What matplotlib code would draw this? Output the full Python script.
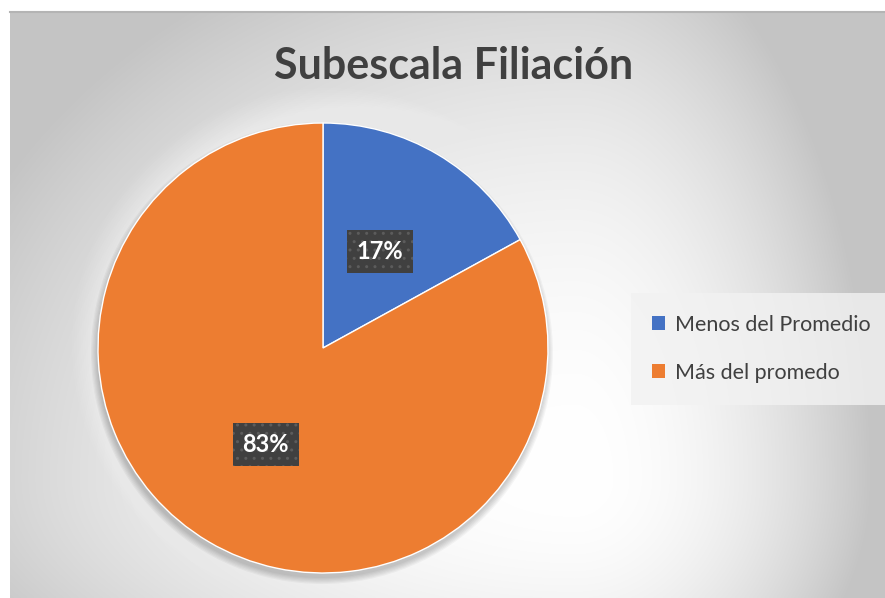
import numpy as np
import matplotlib.pyplot as plt
from matplotlib.patches import Circle

labels = ["Menos del Promedio", "Más del promedo"]
values = [17, 83]
colors = ["#4472C4", "#ED7D31"]
title = "Subescala Filiación"

W, H = 885, 598
fig = plt.figure(figsize=(W / 100, H / 100), dpi=100)
fig.patch.set_facecolor("white")
ax = fig.add_axes([0, 0, 1, 1])

# fondo con degradado (zona del grafico)
x0, x1, y0, y1 = 10, W, 0, H - 12
xx, yy = np.meshgrid(np.linspace(x0, x1, 450), np.linspace(y0, y1, 300))
gx, gy = 575, 118
ndx = np.where(xx > gx, (xx - gx) / (x1 - gx), (gx - xx) / 700)
ndy = np.where(yy > gy, (yy - gy) / 600, (gy - yy) / 300)
g = np.clip(1.0 - 0.25 * (ndx ** 2 + ndy ** 2), 0.77, 1.0)
ax.imshow(np.dstack([g, g, g]), extent=[x0, x1, y0, y1], origin="lower",
          zorder=0, aspect="auto", interpolation="bilinear")
ax.plot([x0, x1], [y1, y1], color="#b4b4b4", lw=1.5, zorder=1)

cx, cy, r = 323, 250, 225
# brillo suave alrededor del pastel
for k in range(14):
    ax.add_patch(Circle((cx + 6, cy + 3), r + 32 - k * 2.2, color="white",
                        alpha=0.045, lw=0, zorder=1))
# sombra del pastel
for k in range(6):
    ax.add_patch(Circle((cx - 1, cy - 5), r + 6 - k * 1.2, color="black",
                        alpha=0.035, lw=0, zorder=1))

wedges, texts, autotexts = ax.pie(
    values, colors=colors, startangle=90, counterclock=False,
    center=(cx, cy), radius=r, autopct="%1.0f%%", pctdistance=0.5,
    wedgeprops=dict(edgecolor="white", linewidth=1.0),
    textprops=dict(color="white", fontsize=17, fontweight="bold", family="Lato"),
    frame=True)
for t in autotexts:
    t.set_bbox(dict(boxstyle="square,pad=0.42", fc="#404040", ec="#5c5c5c",
                    lw=0, hatch=".."))
    t.set_zorder(5)

ax.set_xlim(0, W)
ax.set_ylim(0, H)
ax.set_aspect("equal")
ax.axis("off")

fig.text(454 / W, 1 - 66 / H, title, ha="center", va="center", fontsize=31,
         fontweight="bold", color="#404040", family="Lato")

leg = ax.legend(wedges, labels, loc="center left",
                bbox_to_anchor=(637 / W, 1 - 349 / H), frameon=True,
                handlelength=0.62, handleheight=0.62,
                handletextpad=0.45, labelspacing=1.3, borderpad=0.7,
                borderaxespad=0, prop=dict(family="Lato", size=15.5))
leg.get_frame().set_facecolor("#f2f2f2")
leg.get_frame().set_edgecolor("none")
leg.get_frame().set_boxstyle("square")
for t in leg.get_texts():
    t.set_color("#404040")
for h in leg.legend_handles:
    h.set_edgecolor("none")

fig.savefig("out.png", dpi=100)
